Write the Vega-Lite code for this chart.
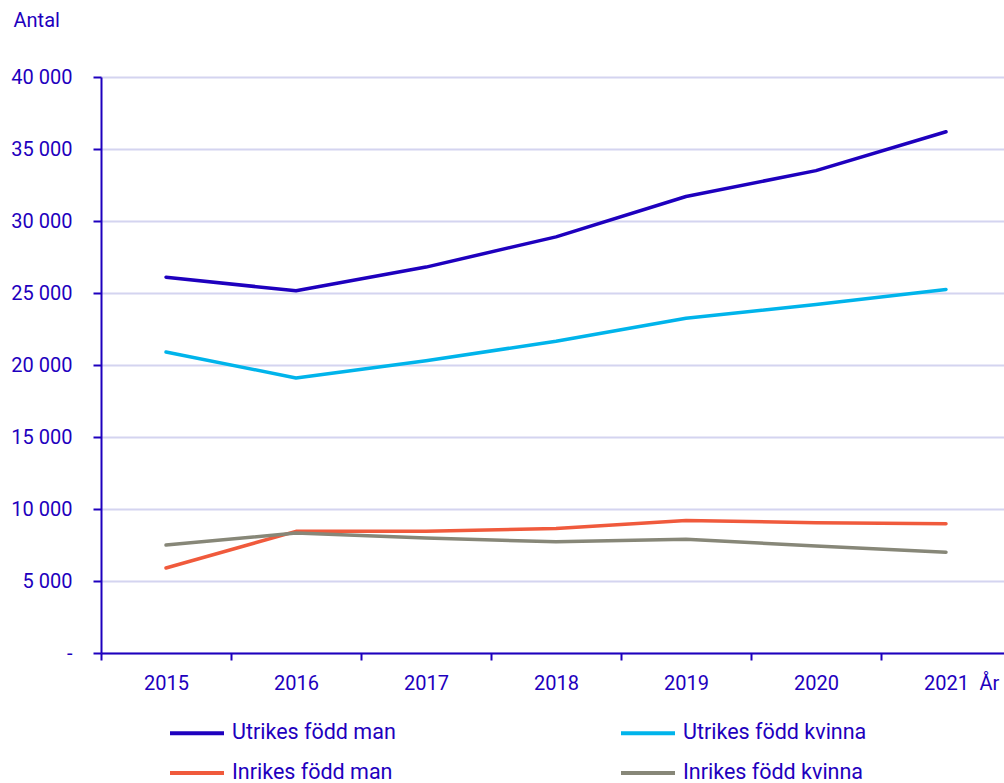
{
  "$schema": "https://vega.github.io/schema/vega-lite/v6.json",
  "autosize": {"type": "none"},
  "padding": {"left": 101, "top": 77, "right": 0, "bottom": 130},
  "width": 910,
  "height": 576,
  "background": "white",
  "config": {
    "view": {"stroke": null},
    "font": "Roboto",
    "axis": {"labelFont": "Roboto", "titleFont": "Roboto"}
  },
  "data": {
    "values": [
      {"ar": "2015", "grupp": "Utrikes född man", "antal": 26100},
      {"ar": "2016", "grupp": "Utrikes född man", "antal": 25150},
      {"ar": "2017", "grupp": "Utrikes född man", "antal": 26800},
      {"ar": "2018", "grupp": "Utrikes född man", "antal": 28900},
      {"ar": "2019", "grupp": "Utrikes född man", "antal": 31700},
      {"ar": "2020", "grupp": "Utrikes född man", "antal": 33500},
      {"ar": "2021", "grupp": "Utrikes född man", "antal": 36200},
      {"ar": "2015", "grupp": "Utrikes född kvinna", "antal": 20900},
      {"ar": "2016", "grupp": "Utrikes född kvinna", "antal": 19100},
      {"ar": "2017", "grupp": "Utrikes född kvinna", "antal": 20300},
      {"ar": "2018", "grupp": "Utrikes född kvinna", "antal": 21650},
      {"ar": "2019", "grupp": "Utrikes född kvinna", "antal": 23250},
      {"ar": "2020", "grupp": "Utrikes född kvinna", "antal": 24200},
      {"ar": "2021", "grupp": "Utrikes född kvinna", "antal": 25250},
      {"ar": "2015", "grupp": "Inrikes född man", "antal": 5900},
      {"ar": "2016", "grupp": "Inrikes född man", "antal": 8450},
      {"ar": "2017", "grupp": "Inrikes född man", "antal": 8450},
      {"ar": "2018", "grupp": "Inrikes född man", "antal": 8650},
      {"ar": "2019", "grupp": "Inrikes född man", "antal": 9200},
      {"ar": "2020", "grupp": "Inrikes född man", "antal": 9050},
      {"ar": "2021", "grupp": "Inrikes född man", "antal": 8980},
      {"ar": "2015", "grupp": "Inrikes född kvinna", "antal": 7500},
      {"ar": "2016", "grupp": "Inrikes född kvinna", "antal": 8330},
      {"ar": "2017", "grupp": "Inrikes född kvinna", "antal": 7980},
      {"ar": "2018", "grupp": "Inrikes född kvinna", "antal": 7720},
      {"ar": "2019", "grupp": "Inrikes född kvinna", "antal": 7900},
      {"ar": "2020", "grupp": "Inrikes född kvinna", "antal": 7430},
      {"ar": "2021", "grupp": "Inrikes född kvinna", "antal": 7000}
    ]
  },
  "mark": {"type": "line", "strokeWidth": 3.5, "strokeCap": "round", "strokeJoin": "round"},
  "encoding": {
    "x": {
      "field": "ar",
      "type": "ordinal",
      "bandPosition": 0.5,
      "scale": {"type": "band", "paddingInner": 0, "paddingOuter": 0},
      "axis": {
        "title": "År",
        "titleX": 878,
        "titleY": 30,
        "titleAlign": "left",
        "titleBaseline": "middle",
        "titleAnchor": null,
        "titleFontSize": 20,
        "titleFontWeight": "normal",
        "titleColor": "#1e00be",
        "labelAngle": 0,
        "labelFontSize": 20,
        "labelColor": "#1e00be",
        "labelPadding": 13,
        "labelBaseline": "top",
        "tickBand": "extent",
        "tickSize": 7,
        "tickWidth": 2,
        "tickColor": "#1e00be",
        "domainColor": "#1e00be",
        "domainWidth": 2,
        "grid": false
      }
    },
    "y": {
      "field": "antal",
      "type": "quantitative",
      "scale": {"domain": [0, 40000], "nice": false, "zero": true},
      "axis": {
        "title": "Antal",
        "titleAngle": 0,
        "titleX": -88,
        "titleY": -57,
        "titleAlign": "left",
        "titleBaseline": "middle",
        "titleFontSize": 20,
        "titleFontWeight": "normal",
        "titleColor": "#1e00be",
        "values": [0, 5000, 10000, 15000, 20000, 25000, 30000, 35000, 40000],
        "labelExpr": "datum.value == 0 ? '-' : replace(format(datum.value, ','), ',', ' ')",
        "labelFontSize": 20,
        "labelColor": "#1e00be",
        "labelPadding": 21,
        "tickSize": 8,
        "tickWidth": 2,
        "tickColor": "#1e00be",
        "domainColor": "#1e00be",
        "domainWidth": 2,
        "grid": true,
        "gridColor": "#d4d4f0",
        "gridWidth": 2
      }
    },
    "color": {
      "field": "grupp",
      "type": "nominal",
      "scale": {
        "domain": ["Utrikes född man", "Utrikes född kvinna", "Inrikes född man", "Inrikes född kvinna"],
        "range": ["#1e00be", "#00b4eb", "#f05a3c", "#878778"]
      },
      "legend": {
        "title": null,
        "orient": "none",
        "legendX": 67,
        "legendY": 627,
        "direction": "horizontal",
        "columns": 2,
        "symbolType": "stroke",
        "symbolSize": 2916,
        "symbolStrokeWidth": 4,
        "labelFontSize": 21.5,
        "labelColor": "#1e00be",
        "labelOffset": 6,
        "columnPadding": 217,
        "rowPadding": -12,
        "labelLimit": 300
      }
    }
  }
}
